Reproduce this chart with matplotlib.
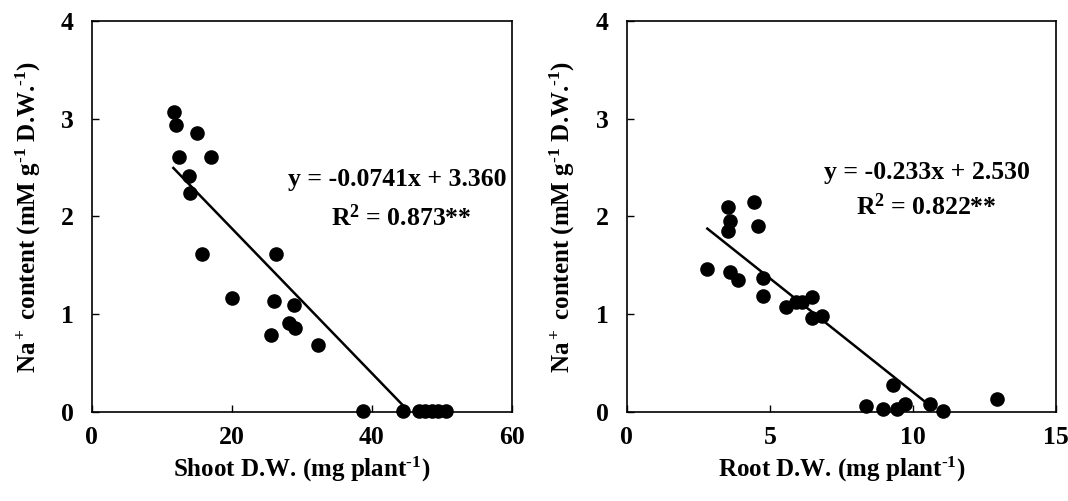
import matplotlib
matplotlib.use("Agg")
import matplotlib.pyplot as plt
import numpy as np

plt.rcParams['font.family'] = 'Liberation Serif'
plt.rcParams['font.weight'] = 'bold'
plt.rcParams['mathtext.fontset'] = 'custom'
plt.rcParams['mathtext.rm'] = 'Liberation Serif:bold'
plt.rcParams['mathtext.it'] = 'Liberation Serif:bold'
plt.rcParams['mathtext.bf'] = 'Liberation Serif:bold'

# Shoot D.W. vs Na+ content
shoot_dw = [11.7, 12.0, 15.0, 12.4, 17.0, 13.9, 14.0, 15.8, 26.3, 20.0, 26.0,
            28.9, 28.2, 29.0, 25.6, 32.3, 38.7, 44.5, 46.7, 47.6, 48.6, 49.5, 50.6]
shoot_na = [3.07, 2.94, 2.85, 2.61, 2.61, 2.41, 2.24, 1.62, 1.62, 1.16, 1.13,
            1.09, 0.91, 0.86, 0.79, 0.68, 0.01, 0.01, 0.01, 0.01, 0.01, 0.01, 0.01]
shoot_slope, shoot_icpt = -0.0741, 3.360
shoot_fit_x = [11.66, 44.9]

# Root D.W. vs Na+ content
root_dw = [2.81, 3.53, 3.59, 3.53, 4.44, 4.58, 3.59, 3.88, 4.76, 4.76, 5.57, 5.92,
           6.10, 6.48, 6.45, 6.83, 9.30, 8.35, 8.95, 9.42, 9.73, 10.58, 11.03, 12.92]
root_na = [1.46, 2.10, 1.95, 1.85, 2.15, 1.90, 1.43, 1.35, 1.37, 1.19, 1.07, 1.12,
           1.12, 1.18, 0.96, 0.98, 0.27, 0.06, 0.03, 0.03, 0.08, 0.08, 0.01, 0.13]
root_slope, root_icpt = -0.233, 2.530
root_fit_x = [2.81, 10.6]

ylabel = r'Na$^+$ content (mM g$^{\text{-1}}$ D.W.$^{\text{-1}}$)'

fig = plt.figure(figsize=(10.68, 5.01), dpi=100)
ax1 = fig.add_axes([0.0859, 0.178, 0.3933, 0.780])
ax2 = fig.add_axes([0.587, 0.178, 0.402, 0.780])

panels = [
    (ax1, shoot_dw, shoot_na, shoot_slope, shoot_icpt, shoot_fit_x, [0, 20, 40, 60],
     r'Shoot D.W. (mg plant$^{\text{-1}}$)', 'y = -0.0741x + 3.360', r'R$^2$ = 0.873**',
     (0.727, 0.577), (0.737, 0.475)),
    (ax2, root_dw, root_na, root_slope, root_icpt, root_fit_x, [0, 5, 10, 15],
     r'Root D.W. (mg plant$^{\text{-1}}$)', 'y = -0.233x + 2.530', r'R$^2$ = 0.822**',
     (0.699, 0.597), (0.698, 0.503)),
]

for ax, xs, ys, m, c, fx, xt, xl, eq, r2, p_eq, p_r2 in panels:
    ax.scatter(xs, ys, s=90, color='black', zorder=3, clip_on=False)
    fx = np.array(fx)
    ax.plot(fx, m * fx + c, color='black', lw=1.8)
    ax.set_xlim(xt[0], xt[-1])
    ax.set_ylim(0, 4)
    ax.set_xticks(xt)
    ax.set_yticks([0, 1, 2, 3, 4])
    ax.tick_params(direction='in', length=5, width=1, labelsize=18.5)
    ax.tick_params(axis='y', pad=13)
    ax.tick_params(axis='x', pad=10)
    for s in ax.spines.values():
        s.set_linewidth(1.2)
    ax.set_xlabel(xl, fontsize=18, fontweight='bold')
    ax.set_ylabel(ylabel, fontsize=18, fontweight='bold')
    ax.xaxis.set_label_coords(0.5, -0.11)
    ax.yaxis.set_label_coords(-0.116, 0.5)
    ax.text(p_eq[0], p_eq[1], eq, transform=ax.transAxes, fontsize=18.5,
            fontweight='bold', ha='center', va='baseline')
    ax.text(p_r2[0], p_r2[1], r2, transform=ax.transAxes, fontsize=18.5,
            fontweight='bold', ha='center', va='baseline')

fig.savefig('out.png', dpi=100)
